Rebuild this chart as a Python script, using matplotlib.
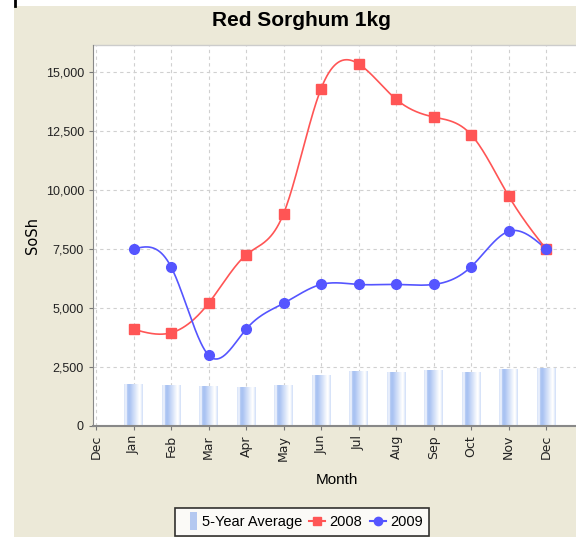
import numpy as np
import matplotlib
matplotlib.use("Agg")
import matplotlib.pyplot as plt
from matplotlib.patches import Rectangle
from matplotlib.lines import Line2D
from matplotlib.legend_handler import HandlerPatch

months = ["Dec", "Jan", "Feb", "Mar", "Apr", "May", "Jun", "Jul", "Aug", "Sep", "Oct", "Nov", "Dec"]
avg_5yr = [1750, 1700, 1680, 1650, 1700, 2150, 2300, 2250, 2350, 2250, 2400, 2450]
y2008 = [4100, 3950, 5200, 7250, 9000, 14300, 15350, 13850, 13100, 12350, 9750, 7500]
y2009 = [7500, 6750, 3000, 4100, 5200, 6000, 6000, 6000, 6000, 6750, 8250, 7500]

plt.rcParams["font.family"] = ["Liberation Sans", "DejaVu Sans"]

BEIGE = "#ece9d8"
RED = "#ff5555"
BLUE = "#5555ff"


def natural_spline(x, y, n=40):
    # natural cubic spline through the points, for drawing the smooth line
    x = np.asarray(x, float)
    y = np.asarray(y, float)
    k = len(x)
    h = np.diff(x)
    A = np.zeros((k, k))
    b = np.zeros(k)
    A[0, 0] = A[-1, -1] = 1
    for i in range(1, k - 1):
        A[i, i - 1] = h[i - 1]
        A[i, i] = 2 * (h[i - 1] + h[i])
        A[i, i + 1] = h[i]
        b[i] = 6 * ((y[i + 1] - y[i]) / h[i] - (y[i] - y[i - 1]) / h[i - 1])
    m = np.linalg.solve(A, b)
    xs, ys = [], []
    for i in range(k - 1):
        t = np.linspace(x[i], x[i + 1], n)
        a = x[i + 1] - t
        c = t - x[i]
        s = (m[i] * a**3 + m[i + 1] * c**3) / (6 * h[i]) \
            + (y[i] / h[i] - m[i] * h[i] / 6) * a + (y[i + 1] / h[i] - m[i + 1] * h[i] / 6) * c
        xs.extend(t)
        ys.extend(s)
    return np.array(xs), np.array(ys)


fig = plt.figure(figsize=(5.76, 5.37), dpi=100)
fig.patch.set_facecolor("white")
fig.patches.append(Rectangle((14 / 576, 0), 1, 1 - 6 / 537, transform=fig.transFigure,
                             facecolor=BEIGE, edgecolor="none", zorder=-10))
fig.lines.append(Line2D([14.5 / 576, 14.5 / 576], [1 - 6 / 537, 1], transform=fig.transFigure,
                        color="black", lw=2))

ax = fig.add_axes([93 / 576, 1 - 426 / 537, 1 - 93 / 576 + 0.01, (426 - 45) / 537])
ax.set_facecolor("white")

x = np.arange(1, 13)

# gradient bars for the 5-year average (light edge, blue body fading to white)
grad = np.array([0.6, 0.85, 0.1, 0.0, 0.1, 0.25, 0.4, 0.55, 0.7, 0.85, 1.0, 0.9, 0.55])
light = np.array([1.0, 1.0, 1.0])
dark = np.array([0.66, 0.76, 0.95])
img = np.array([dark + (light - dark) * g for g in grad])[None, :, :]
bw = 0.5
for xi, v in zip(x, avg_5yr):
    ax.imshow(img, extent=(xi - bw / 2, xi + bw / 2, 0, v), aspect="auto", zorder=2,
              interpolation="bilinear")

sx, sy = natural_spline(x, y2008)
ax.plot(sx, sy, color=RED, lw=1.2, zorder=3)
ax.plot(x, y2008, "s", color=RED, ms=6.5, zorder=4)
sx, sy = natural_spline(x, y2009)
ax.plot(sx, sy, color=BLUE, lw=1.2, zorder=3)
ax.plot(x, y2009, "o", color=BLUE, ms=7, zorder=4)

ax.set_xlim(-0.08, 12.95)
ax.set_ylim(0, 16150)
ax.set_xticks(range(0, 13))
ax.set_xticklabels(months, rotation=90, fontsize=9, family="DejaVu Sans")
ax.set_yticks(range(0, 15001, 2500))
ax.set_yticklabels([f"{v:,}" for v in range(0, 15001, 2500)], fontsize=9)
ax.tick_params(axis="both", colors="#777777", labelcolor="#222222", length=3)
ax.grid(True, color="#d0d0d0", linestyle=(0, (3, 3)), lw=0.8)
ax.set_axisbelow(True)
for side in ["top", "right"]:
    ax.spines[side].set_visible(False)
ax.spines["left"].set_color("#888888")
ax.spines["bottom"].set_color("#888888")
ax.spines["bottom"].set_linewidth(1.5)
ax.plot([-0.08, 12.95], [16150, 16150], color="#cccccc", lw=1, clip_on=False, zorder=1)

ax.set_ylabel("SoSh", fontsize=10.5, family="DejaVu Sans", labelpad=4)
ax.set_xlabel("Month", fontsize=11, labelpad=9)
fig.text(301 / 576, 1 - 21 / 537, "Red Sorghum 1kg", ha="center", va="center",
         fontsize=15, fontweight="bold")


def narrow_bar(legend, orig_handle, xdescent, ydescent, width, height, fontsize):
    return Rectangle((width - xdescent - 5, -ydescent - 3), 4.5, height + 6)


handles = [
    Rectangle((0, 0), 1, 1, facecolor="#b4c8f0", edgecolor="none"),
    Line2D([], [], color=RED, marker="s", ms=6, lw=1.5),
    Line2D([], [], color=BLUE, marker="o", ms=6, lw=1.5),
]
leg = fig.legend(handles, ["5-Year Average", "2008", "2009"], loc="center",
                 bbox_to_anchor=(302 / 576, 1 - 522 / 537), ncol=3, frameon=True,
                 fancybox=False, edgecolor="black",
                 prop={"size": 10.5},
                 handler_map={Rectangle: HandlerPatch(patch_func=narrow_bar)},
                 handlelength=1.1, handletextpad=0.3, columnspacing=0.5, borderpad=0.45)
leg.get_frame().set_linewidth(1.2)
leg.get_frame().set_facecolor("white")

fig.savefig("out.png", dpi=100)
